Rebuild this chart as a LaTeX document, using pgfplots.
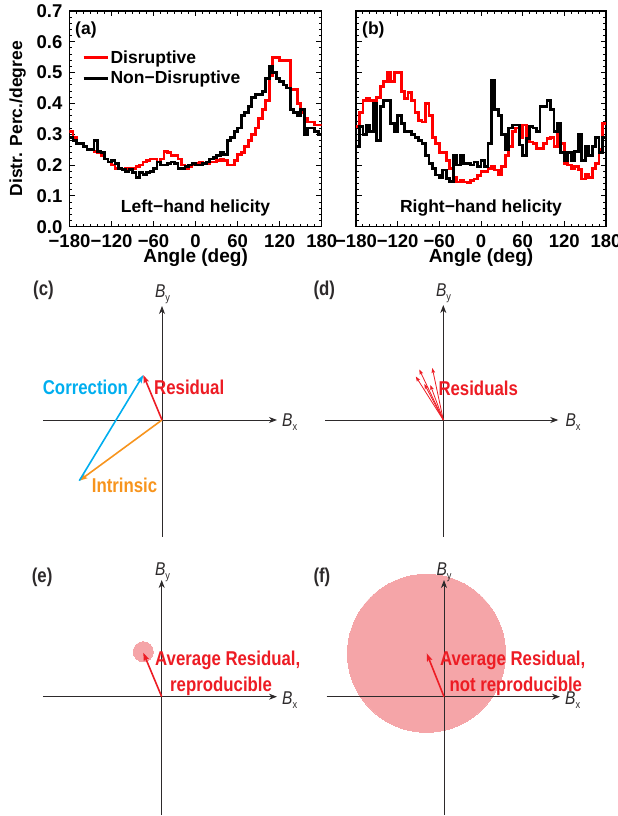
\documentclass[border=0pt]{standalone}
\usepackage{pgfplots}
\pgfplotsset{compat=1.18}
\usepackage{pgfplotstable}
\usepackage{fontspec}
\usetikzlibrary{arrows.meta}
\setmainfont{Liberation Sans}
\newfontfamily\condfont[FakeStretch=0.84]{Liberation Sans}

\newcommand\hfont{\fontsize{17.5}{20}\selectfont\bfseries}
\newcommand\tfont{\fontsize{18.5}{21}\selectfont\bfseries}
\newcommand\xlfont{\fontsize{19}{22}\selectfont\bfseries}
\newcommand\lfont{\condfont\fontsize{20}{24}\selectfont\bfseries}
\newcommand\bvec[1]{{\condfont\fontsize{18.5}{20}\selectfont\itshape B}{\condfont\fontsize{11}{12}\selectfont\raisebox{-3.5pt}{#1}}}

\definecolor{diagred}{RGB}{237,28,36}
\definecolor{diagblue}{RGB}{0,174,239}
\definecolor{diagorange}{RGB}{247,148,29}
\definecolor{axisgray}{RGB}{45,42,43}
\definecolor{blobpink}{RGB}{245,165,168}

% Angle distributions, 5-degree bins (left edges; last row closes the step at 180)
\pgfplotstableread{
x y
-180 0.31
-175 0.29
-170 0.27
-165 0.27
-160 0.26
-155 0.25
-150 0.25
-145 0.245
-140 0.24
-135 0.23
-130 0.22
-125 0.21
-120 0.20
-115 0.19
-110 0.19
-105 0.185
-100 0.19
-95 0.19
-90 0.19
-85 0.195
-80 0.20
-75 0.21
-70 0.215
-65 0.22
-60 0.22
-55 0.21
-50 0.22
-45 0.245
-40 0.24
-35 0.23
-30 0.23
-25 0.22
-20 0.20
-15 0.19
-10 0.195
-5 0.20
0 0.205
5 0.21
10 0.205
15 0.205
20 0.21
25 0.21
30 0.215
35 0.22
40 0.215
45 0.20
50 0.20
55 0.215
60 0.235
65 0.24
70 0.26
75 0.28
80 0.30
85 0.32
90 0.35
95 0.38
100 0.41
105 0.49
110 0.55
115 0.55
120 0.54
125 0.54
130 0.54
135 0.445
140 0.445
145 0.40
150 0.37
155 0.35
160 0.34
165 0.34
170 0.33
175 0.33
180 0.33
}\leftDisr

\pgfplotstableread{
x y
-180 0.29
-175 0.28
-170 0.27
-165 0.27
-160 0.26
-155 0.25
-150 0.25
-145 0.28
-140 0.245
-135 0.24
-130 0.22
-125 0.21
-120 0.215
-115 0.205
-110 0.19
-105 0.185
-100 0.18
-95 0.185
-90 0.175
-85 0.16
-80 0.175
-75 0.17
-70 0.175
-65 0.18
-60 0.19
-55 0.21
-50 0.20
-45 0.20
-40 0.205
-35 0.21
-30 0.205
-25 0.19
-20 0.19
-15 0.195
-10 0.20
-5 0.205
0 0.20
5 0.20
10 0.205
15 0.21
20 0.22
25 0.225
30 0.23
35 0.24
40 0.235
45 0.28
50 0.29
55 0.31
60 0.32
65 0.36
70 0.37
75 0.39
80 0.42
85 0.43
90 0.43
95 0.44
100 0.48
105 0.52
110 0.50
115 0.48
120 0.47
125 0.46
130 0.45
135 0.38
140 0.37
145 0.36
150 0.38
155 0.30
160 0.32
165 0.32
170 0.31
175 0.30
180 0.30
}\leftNonDisr

\pgfplotstableread{
x y
-180 0.325
-175 0.37
-170 0.41
-165 0.415
-160 0.41
-155 0.405
-150 0.42
-145 0.455
-140 0.47
-135 0.50
-130 0.47
-125 0.50
-120 0.50
-115 0.44
-110 0.415
-105 0.435
-100 0.41
-95 0.37
-90 0.345
-85 0.34
-80 0.40
-75 0.36
-70 0.29
-65 0.27
-60 0.24
-55 0.24
-50 0.215
-45 0.19
-40 0.16
-35 0.145
-30 0.15
-25 0.145
-20 0.143
-15 0.15
-10 0.155
-5 0.165
0 0.178
5 0.18
10 0.19
15 0.195
20 0.184
25 0.168
30 0.195
35 0.23
40 0.26
45 0.31
50 0.32
55 0.29
60 0.33
65 0.28
70 0.275
75 0.27
80 0.255
85 0.255
90 0.27
95 0.285
100 0.29
105 0.26
110 0.30
115 0.27
120 0.205
125 0.20
130 0.19
135 0.195
140 0.185
145 0.155
150 0.17
155 0.16
160 0.19
165 0.205
170 0.25
175 0.335
180 0.335
}\rightDisr

\pgfplotstableread{
x y
-180 0.26
-175 0.325
-170 0.30
-165 0.33
-160 0.31
-155 0.40
-150 0.28
-145 0.39
-140 0.41
-135 0.41
-130 0.335
-125 0.31
-120 0.36
-115 0.335
-110 0.31
-105 0.31
-100 0.30
-95 0.29
-90 0.28
-85 0.27
-80 0.23
-75 0.205
-70 0.19
-65 0.168
-60 0.16
-55 0.184
-50 0.157
-45 0.146
-40 0.23
-35 0.20
-30 0.23
-25 0.205
-20 0.205
-15 0.20
-10 0.21
-5 0.195
0 0.215
5 0.195
10 0.27
15 0.475
20 0.38
25 0.36
30 0.30
35 0.25
40 0.32
45 0.33
50 0.33
55 0.265
60 0.23
65 0.285
70 0.325
75 0.32
80 0.31
85 0.39
90 0.39
95 0.41
100 0.38
105 0.31
110 0.335
115 0.24
120 0.215
125 0.24
130 0.215
135 0.245
140 0.30
145 0.215
150 0.26
155 0.23
160 0.26
165 0.29
170 0.24
175 0.29
180 0.29
}\rightNonDisr

\pgfplotsset{
  histo/.style={
    scale only axis, height=215.7pt,
    xmin=-180, xmax=180, ymin=0, ymax=0.7,
    axis line style={line width=1.4pt},
    tick style={line width=1pt, black},
    major tick length=5.5pt, minor tick length=3pt,
    tick align=inside, xtick pos=both, ytick pos=both,
    xtick={-180,-120,-60,0,60,120,180}, minor x tick num=5,
    ytick={0,0.1,0.2,0.3,0.4,0.5,0.6,0.7}, minor y tick num=4,
    xticklabels={−180,−120,−60,0,60,120,180},
    xticklabel style={anchor=north, inner sep=0pt, yshift=-7.5pt},
    yticklabel style={anchor=east, inner sep=0pt, xshift=-7pt},
    tick label style={font=\tfont},
    every axis x label/.style={at={(axis description cs:0.5,-0.168)}, anchor=base, font=\xlfont},
    every axis y label/.style={at={(axis description cs:-0.206,0.5)}, rotate=90, anchor=center, font=\hfont},
    xlabel={Angle (deg)},
  },
  step/.style={const plot, line width=2.8pt, line join=miter},
  diagram/.style={
    scale only axis, width=240pt, height=240pt,
    xmin=-120, xmax=120, ymin=-120, ymax=120,
    hide axis, clip=false, clip mode=individual, anchor=origin,
  },
  bline/.style={axisgray, line width=0.9pt, -{Stealth[length=8pt,width=6pt,inset=2.5pt]}},
  vec/.style={line width=1.6pt, -{Stealth[length=8pt,width=5.5pt,inset=1.5pt]}},
  thinvec/.style={diagred, line width=0.8pt, -{Stealth[length=5pt,width=3.6pt,inset=1pt]}},
  blob/.style={blobpink, only marks, mark=*, mark size=#1, mark options={draw=blobpink, fill=blobpink, line width=0pt}},
}

\begin{document}
\begin{tikzpicture}
\useasboundingbox (0pt,0pt) rectangle (618pt,816pt);

% (a) left-hand helicity
\begin{axis}[histo, width=252.2pt, at={(69.5pt,589.3pt)}, anchor=south west,
  yticklabels={0.0,0.1,0.2,0.3,0.4,0.5,0.6,0.7},
  ylabel={Distr. Perc./degree},
  legend style={at={(axis description cs:0.05,0.826)}, anchor=north west,
    draw=none, fill=none, inner sep=0pt, row sep=3pt, font=\hfont,
    nodes={inner xsep=1.5pt, inner ysep=1.8pt}, cells={anchor=west}},
  legend image code/.code={\draw[#1] (0pt,0pt) -- (24pt,0pt);},
]
\addlegendimage{red, line width=2.8pt}
\addlegendimage{black, line width=2.8pt}
\legend{Disruptive, Non−Disruptive}
\addplot[step, red, forget plot] table {\leftDisr};
\addplot[step, black, forget plot] table {\leftNonDisr};
\node[font=\hfont, anchor=base west, inner sep=0pt] at (axis description cs:0.022,0.889) {(a)};
\node[font=\hfont, anchor=base, inner sep=0pt] at (axis description cs:0.5,0.068) {Left−hand helicity};
\end{axis}

% (b) right-hand helicity
\begin{axis}[histo, width=250pt, at={(356pt,589.3pt)}, anchor=south west,
  yticklabels={}]
\addplot[step, red] table {\rightDisr};
\addplot[step, black] table {\rightNonDisr};
\node[font=\hfont, anchor=base west, inner sep=0pt] at (axis description cs:0.024,0.889) {(b)};
\node[font=\hfont, anchor=base, inner sep=0pt] at (axis description cs:0.5,0.068) {Right−hand helicity};
\end{axis}

% (c) intrinsic + correction = residual
\begin{axis}[diagram, at={(162pt,396pt)}]
\addplot[bline] coordinates {(-119,0) (115,0)};
\addplot[bline] coordinates {(0,-117) (0,114)};
\addplot[vec, diagorange] coordinates {(0,0) (-82.7,-60.7)};
\addplot[vec, diagblue] coordinates {(-82.7,-60.7) (-18.7,45)};
\addplot[vec, diagred] coordinates {(0,0) (-18.7,45)};
\node[font=\lfont, text=axisgray, anchor=base west, inner sep=0pt] at (axis cs:-129,124) {(c)};
\node[text=axisgray, anchor=base, inner sep=0pt] at (axis cs:0.5,122) {\bvec{y}};
\node[text=axisgray, anchor=base west, inner sep=0pt] at (axis cs:120,-7) {\bvec{x}};
\node[font=\lfont, text=diagblue, anchor=base east, inner sep=0pt] at (axis cs:-34,25) {Correction};
\node[font=\lfont, text=diagred, anchor=base west, inner sep=0pt] at (axis cs:-8,25) {Residual};
\node[font=\lfont, text=diagorange, anchor=base west, inner sep=0pt] at (axis cs:-70.3,-72.7) {Intrinsic};
\end{axis}

% (d) individual residuals
\begin{axis}[diagram, at={(443.3pt,396pt)}]
\addplot[bline] coordinates {(-118,0) (115,0)};
\addplot[bline] coordinates {(0,-117) (0,115)};
\addplot[thinvec] coordinates {(0,0) (-27.5,43.5)};
\addplot[thinvec] coordinates {(0,0) (-24,50.5)};
\addplot[thinvec] coordinates {(0,0) (-11,52)};
\addplot[thinvec] coordinates {(0,0) (-19,36)};
\addplot[thinvec] coordinates {(0,0) (-13,35)};
\node[font=\lfont, text=axisgray, anchor=base west, inner sep=0pt] at (axis cs:-130,124) {(d)};
\node[text=axisgray, anchor=base, inner sep=0pt] at (axis cs:0.2,123) {\bvec{y}};
\node[text=axisgray, anchor=base west, inner sep=0pt] at (axis cs:122,-7) {\bvec{x}};
\node[font=\lfont, text=diagred, anchor=base west, inner sep=0pt] at (axis cs:-5,24.3) {Residuals};
\end{axis}

% (e) reproducible average residual
\begin{axis}[diagram, at={(161.7pt,119.3pt)}]
\addplot[blob=10pt] coordinates {(-18.4,45)};
\addplot[bline] coordinates {(-118.7,0) (115.3,0)};
\addplot[axisgray, line width=0.9pt] coordinates {(0,-118.3) (0,0)};
\addplot[bline] coordinates {(0,0) (0,116.7)};
\addplot[vec, diagred] coordinates {(0,0) (-18.4,44)};
\node[font=\lfont, text=axisgray, anchor=base west, inner sep=0pt] at (axis cs:-130,113.7) {(e)};
\node[text=axisgray, anchor=base, inner sep=0pt] at (axis cs:0.8,121) {\bvec{y}};
\node[text=axisgray, anchor=base west, inner sep=0pt] at (axis cs:120.3,-8) {\bvec{x}};
\node[font=\lfont, text=diagred, anchor=base west, inner sep=0pt] at (axis cs:-6.7,30.7) {Average Residual,};
\node[font=\lfont, text=diagred, anchor=base west, inner sep=0pt] at (axis cs:8.3,5.5) {reproducible};
\end{axis}

% (f) non-reproducible average residual
\begin{axis}[diagram, at={(444pt,119.3pt)}]
\addplot[blob=79pt] coordinates {(-17.5,43.4)};
\addplot[bline] coordinates {(-117.3,0) (116,0)};
\addplot[axisgray, line width=0.9pt] coordinates {(0,-118.3) (0,0)};
\addplot[bline] coordinates {(0,0) (0,116.7)};
\addplot[vec, diagred] coordinates {(0,0) (-17.3,43.4)};
\node[font=\lfont, text=axisgray, anchor=base west, inner sep=0pt] at (axis cs:-130.7,113.7) {(f)};
\node[text=axisgray, anchor=base, inner sep=0pt] at (axis cs:0,121) {\bvec{y}};
\node[text=axisgray, anchor=base west, inner sep=0pt] at (axis cs:121,-8) {\bvec{x}};
\node[font=\lfont, text=diagred, anchor=base west, inner sep=0pt] at (axis cs:-4,30.7) {Average Residual,};
\node[font=\lfont, text=diagred, anchor=base west, inner sep=0pt] at (axis cs:5.3,5) {not reproducible};
\end{axis}
\end{tikzpicture}
\end{document}
